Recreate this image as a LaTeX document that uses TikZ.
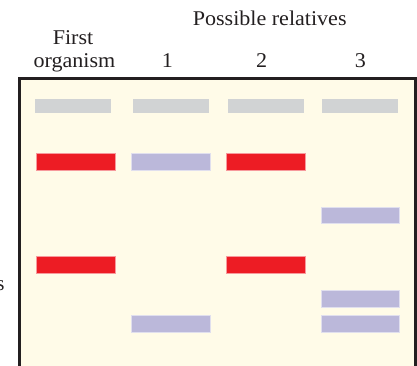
\documentclass[tikz,border=0pt]{standalone}
\usepackage{fontspec}
\setmainfont{Liberation Serif}
\definecolor{cream}{HTML}{FFFBE8}
\definecolor{framec}{HTML}{231F20}
\definecolor{greyband}{HTML}{D1D3D4}
\definecolor{redband}{HTML}{ED1C24}
\definecolor{purpleband}{HTML}{BBB8DA}
\newcommand{\wtext}[1]{\scalebox{1.05}[1]{#1}}
\begin{document}
\begin{tikzpicture}[x=1pt,y=-1pt,
  lbl/.style={anchor=base,inner sep=0pt,font=\fontsize{21}{25}\selectfont,text=framec},
  greyb/.style={rectangle,inner sep=0pt,fill=greyband,minimum width=76pt,minimum height=13.7pt},
  colb/.style={rectangle,inner sep=0pt,minimum width=78.6pt,minimum height=16.7pt,draw=#1!45!white,line width=0.6pt,fill=#1},
]
\useasboundingbox (0,0) rectangle (417,365);
\clip (0,0) rectangle (417,365);
% gel frame
\fill[cream] (19,78) rectangle (415.8,400);
\draw[framec,line width=3pt] (19,400) -- (19,78) -- (415.8,78) -- (415.8,400);
% labels
\node[lbl] (poss) at (269.7,25.7) {\wtext{Possible relatives}};
\node[lbl] (first) at (73,44.3) {\wtext{First}};
\node[lbl] (org) at (74.5,67.7) {\wtext{organism}};
\node[lbl] (l1) at (167.5,67.7) {\wtext{1}};
\node[lbl] (l2) at (261.7,67.7) {\wtext{2}};
\node[lbl] (l3) at (360.5,67.7) {\wtext{3}};
\node[lbl,anchor=base east] (cut) at (4.8,290) {s};
% grey reference bands
\node[greyb] (g1) at (73,105.9) {};
\node[greyb] (g2) at (170.9,105.9) {};
\node[greyb] (g3) at (265.9,105.9) {};
\node[greyb] (g4) at (360,105.9) {};
% row A
\node[colb=redband] (a1) at (76,161.7) {};
\node[colb=purpleband] (a2) at (171,161.7) {};
\node[colb=redband] (a3) at (266,161.7) {};
% row B
\node[colb=purpleband] (b4) at (360.3,215.2) {};
% row C
\node[colb=redband] (c1) at (76,265) {};
\node[colb=redband] (c3) at (266,265) {};
% row D
\node[colb=purpleband] (d4) at (360.3,298.7) {};
% row E
\node[colb=purpleband] (e2) at (171,323.7) {};
\node[colb=purpleband] (e4) at (360.3,323.7) {};
\end{tikzpicture}
\end{document}
